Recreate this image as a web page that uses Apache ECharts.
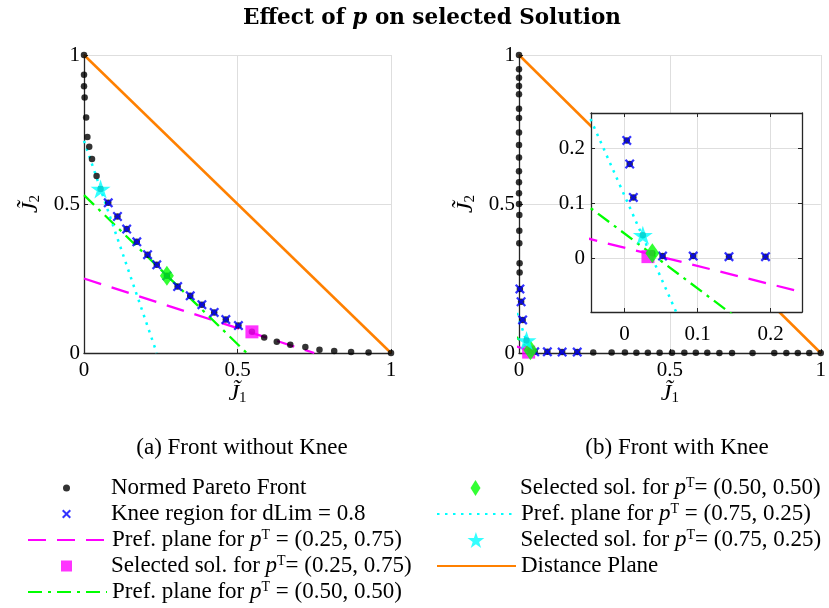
<!DOCTYPE html>
<html><head><meta charset="utf-8">
<script src="https://cdn.jsdelivr.net/npm/echarts@6/dist/echarts.min.js"></script>
<style>html,body{margin:0;padding:0;background:#fff}#c{width:829px;height:608px}</style>
</head><body><div id="c"></div>
<script>
// ---------------- data ----------------
// (a) front without knee
const leftFrontX = [0, 0, 0, 0.002, 0.007, 0.011, 0.017, 0.026, 0.041, 0.054, 0.079, 0.109, 0.139, 0.172, 0.207, 0.237, 0.270, 0.305, 0.346, 0.384, 0.424, 0.462, 0.503, 0.547, 0.587, 0.628, 0.672, 0.721, 0.767, 0.815, 0.870, 0.927, 1];
const leftFrontY = [1, 0.934, 0.895, 0.857, 0.790, 0.725, 0.692, 0.651, 0.594, 0.550, 0.504, 0.458, 0.416, 0.373, 0.330, 0.296, 0.259, 0.223, 0.192, 0.162, 0.136, 0.112, 0.092, 0.071, 0.052, 0.038, 0.028, 0.020, 0.011, 0.007, 0.003, 0.002, 0];
const leftKneeX = [0.079, 0.109, 0.139, 0.172, 0.207, 0.237, 0.270, 0.305, 0.346, 0.384, 0.424, 0.462, 0.503];
const leftKneeY = [0.504, 0.458, 0.416, 0.373, 0.330, 0.296, 0.259, 0.223, 0.192, 0.162, 0.136, 0.112, 0.092];
const leftSel25 = [0.547, 0.071];
const leftSel50 = [0.270, 0.259];
const leftSel75 = [0.054, 0.550];
const leftPref25 = [[0, 0.25], [0.75, 0]];
const leftPref50 = [[0, 0.53], [0.53, 0]];
const leftPref75 = [[0, 0.712], [0.237, 0]];
// (b) front with knee
const rightFrontX = [0, 0, 0, 0, 0, 0, 0, 0, 0, 0, 0, 0, 0, 0, 0.001, 0.001, 0.001, 0.002, 0.002, 0.003, 0.007, 0.012, 0.025, 0.038, 0.052, 0.094, 0.143, 0.193, 0.246, 0.307, 0.351, 0.389, 0.427, 0.466, 0.507, 0.548, 0.586, 0.624, 0.664, 0.706, 0.774, 0.846, 0.886, 0.924, 0.962, 1];
const rightFrontY = [1, 0.952, 0.924, 0.896, 0.868, 0.820, 0.789, 0.740, 0.698, 0.656, 0.610, 0.573, 0.536, 0.500, 0.463, 0.410, 0.368, 0.301, 0.270, 0.215, 0.172, 0.111, 0.042, 0.009, 0.004, 0.004, 0.003, 0.003, 0.002, 0.002, 0.002, 0.001, 0.001, 0.001, 0.001, 0.001, 0.001, 0.001, 0, 0, 0, 0, 0, 0, 0, 0];
const rightKneeX = [0.003, 0.007, 0.012, 0.052, 0.094, 0.143, 0.193];
const rightKneeY = [0.215, 0.172, 0.111, 0.004, 0.004, 0.003, 0.003];
const rightSel25 = [0.032, 0.003];
const rightSel50 = [0.038, 0.009];
const rightSel75 = [0.025, 0.042];
const rightPref25 = [[-0.1, 0.0526], [0.3, -0.0807]];
const rightPref50 = [[-0.1, 0.145], [0.3, -0.255]];
const rightPref75 = [[-0.1, 0.414], [0.3, -0.786]];
const distancePlane = [[0, 1], [1, 0]];
// tick values
const mainTicks = [0, 0.5, 1];
const insetTicks = [0, 0.1, 0.2];
const insetXRange = [-0.046, 0.243];
const insetYRange = [-0.098, 0.265];

// ---------------- names ----------------
const N_FRONT = 'Normed Pareto Front';
const N_KNEE = 'Knee region for dLim = 0.8';
const N_P25 = 'Pref. plane for pT = (0.25, 0.75)';
const N_S25 = 'Selected sol. for pT= (0.25, 0.75)';
const N_P50 = 'Pref. plane for pT = (0.50, 0.50)';
const N_S50 = 'Selected sol. for pT= (0.50, 0.50)';
const N_P75 = 'Pref. plane for pT = (0.75, 0.25)';
const N_S75 = 'Selected sol. for pT= (0.75, 0.25)';
const N_DIST = 'Distance Plane';

// ---------------- styles ----------------
const SERIF = '"Liberation Serif", "DejaVu Serif", serif';
const AX = '#262626';
const GRIDC = '#dedede';
const X_PATH = 'path://M0,1.6 L1.6,0 L5,3.4 L8.4,0 L10,1.6 L6.6,5 L10,8.4 L8.4,10 L5,6.6 L1.6,10 L0,8.4 L3.4,5 Z';
const DIAMOND_PATH = 'path://M5,0 L10,8 L5,16 L0,8 Z';
const SQUARE_PATH = 'path://M0,0 L10,0 L10,10 L0,10 Z';
const STAR_PATH = 'path://M10,0 L12.245,6.910 L19.511,6.910 L13.633,11.180 L15.878,18.090 L10,13.82 L4.122,18.090 L6.367,11.180 L0.489,6.910 L7.755,6.910 Z';

const zip = (xs, ys) => xs.map((x, i) => [x, ys[i]]);

function seriesSet(xi, yi, d, z) {
  return [
    {name: N_FRONT, type: 'scatter', xAxisIndex: xi, yAxisIndex: yi, z: z, data: zip(d.fx, d.fy),
      symbol: 'circle', symbolSize: 6.5, itemStyle: {color: '#000'}},
    {name: N_KNEE, type: 'scatter', xAxisIndex: xi, yAxisIndex: yi, z: z, data: zip(d.kx, d.ky),
      symbol: X_PATH, symbolSize: 10, itemStyle: {color: '#0000ff'}},
    {name: N_P25, type: 'line', xAxisIndex: xi, yAxisIndex: yi, z: z, data: d.p25, symbol: 'none',
      lineStyle: {color: '#ff00ff', width: 2.3, type: [18, 11]}, itemStyle: {color: '#ff00ff'}},
    {name: N_S25, type: 'scatter', xAxisIndex: xi, yAxisIndex: yi, z: z, data: [d.s25],
      symbol: SQUARE_PATH, symbolSize: 13, itemStyle: {color: '#ff00ff'}},
    {name: N_P50, type: 'line', xAxisIndex: xi, yAxisIndex: yi, z: z, data: d.p50, symbol: 'none',
      lineStyle: {color: '#00ff00', width: 2.3, type: [14, 6, 3, 6]}, itemStyle: {color: '#00ff00'}},
    {name: N_S50, type: 'scatter', xAxisIndex: xi, yAxisIndex: yi, z: z, data: [d.s50],
      symbol: DIAMOND_PATH, symbolSize: [14, 20], itemStyle: {color: '#00ff00'}},
    {name: N_P75, type: 'line', xAxisIndex: xi, yAxisIndex: yi, z: z, data: d.p75, symbol: 'none',
      lineStyle: {color: '#00ffff', width: 2.5, type: [2.5, 5.5]}, itemStyle: {color: '#00ffff'}},
    {name: N_S75, type: 'scatter', xAxisIndex: xi, yAxisIndex: yi, z: z, data: [d.s75],
      symbol: STAR_PATH, symbolSize: 20, symbolKeepAspect: true, itemStyle: {color: '#00ffff'}},
    {name: N_DIST, type: 'line', xAxisIndex: xi, yAxisIndex: yi, z: z, data: distancePlane, symbol: 'none',
      lineStyle: {color: '#ff8000', width: 2.5}, itemStyle: {color: '#ff8000'}}
  ];
}

const leftData = {fx: leftFrontX, fy: leftFrontY, kx: leftKneeX, ky: leftKneeY, p25: leftPref25, s25: leftSel25,
  p50: leftPref50, s50: leftSel50, p75: leftPref75, s75: leftSel75};
const rightData = {fx: rightFrontX, fy: rightFrontY, kx: rightKneeX, ky: rightKneeY, p25: rightPref25, s25: rightSel25,
  p50: rightPref50, s50: rightSel50, p75: rightPref75, s75: rightSel75};

const tickFont = {fontFamily: SERIF, fontSize: 21, color: '#000'};
const nameRich = {
  j: {fontFamily: SERIF, fontStyle: 'italic', fontSize: 24, color: '#000'},
  s: {fontFamily: SERIF, fontSize: 15, color: '#000', verticalAlign: 'bottom'}
};

function mainX(gi) {
  return {type: 'value', gridIndex: gi, min: 0, max: 1, interval: 0.5,
    axisLine: {show: true, onZero: false, lineStyle: {color: AX, width: 1.3}},
    axisTick: {show: true, inside: true, length: 4, lineStyle: {color: AX, width: 1}},
    axisLabel: Object.assign({margin: 7}, tickFont),
    splitLine: {show: true, lineStyle: {color: GRIDC, width: 1}},
    name: '{j|J\u0303}{s|1}', nameLocation: 'middle', nameGap: 15,
    nameTextStyle: {rich: nameRich}};
}
function mainY(gi) {
  return {type: 'value', gridIndex: gi, min: 0, max: 1, interval: 0.5,
    axisLine: {show: true, onZero: false, lineStyle: {color: AX, width: 1.3}},
    axisTick: {show: true, inside: true, length: 4, lineStyle: {color: AX, width: 1}},
    axisLabel: Object.assign({margin: 4}, tickFont),
    splitLine: {show: true, lineStyle: {color: GRIDC, width: 1}},
    name: '{j|J\u0303}{s|2}', nameLocation: 'middle', nameGap: 41, nameRotate: 90,
    nameTextStyle: {rich: nameRich}};
}
function insetAxis(isX, pos, showLabel, split) {
  const r = isX ? insetXRange : insetYRange;
  return {type: 'value', gridIndex: 2, position: pos, min: r[0], max: r[1], z: 4,
    axisLine: {show: true, onZero: false, lineStyle: {color: AX, width: 1.3}},
    axisTick: {show: true, inside: true, length: 4, customValues: insetTicks, lineStyle: {color: AX, width: 1}},
    axisLabel: Object.assign({show: showLabel, margin: isX ? 12 : 6, customValues: insetTicks}, tickFont),
    splitLine: {show: split, lineStyle: {color: GRIDC, width: 1}}};
}

// ---------------- legend ----------------
const LFS = 23;
const legendRich = {
  i: {fontFamily: SERIF, fontStyle: 'italic', fontSize: LFS, color: '#000'},
  s: {fontFamily: SERIF, fontSize: 14, color: '#000', verticalAlign: 'top'}
};
function fmtName(n) {
  return n.replace('pT', '{i|p}{s|T}');
}
// w: drawn icon width for symbol rows (legend is placed by its bounding box)
const legendRows = [
  {name: N_FRONT, col: 0, row: 0, h: 7, w: 7, icon: 'circle'},
  {name: N_KNEE, col: 0, row: 1, h: 9, w: 9, icon: X_PATH},
  {name: N_P25, col: 0, row: 2, h: 10},
  {name: N_S25, col: 0, row: 3, h: 11, w: 11, icon: SQUARE_PATH},
  {name: N_P50, col: 0, row: 4, h: 10},
  {name: N_S50, col: 1, row: 0, h: 16, w: 10, icon: DIAMOND_PATH},
  {name: N_P75, col: 1, row: 1, h: 10},
  {name: N_S75, col: 1, row: 2, h: 16, w: 16, icon: STAR_PATH},
  {name: N_DIST, col: 1, row: 3, h: 10}
];
const legends = legendRows.map(r => {
  const cy = 488 + r.row * 26;
  const x0 = r.col === 0 ? 27 : 436;
  const item = {name: r.name};
  let left = x0;
  if (r.icon) {
    item.icon = r.icon;
    left = x0 + 39.5 - r.w / 2;
  } else {
    item.itemStyle = {opacity: 0};
  }
  return {
    show: true, orient: 'vertical', left: left, top: cy - 12,
    padding: 0, itemWidth: 79, itemHeight: r.h, itemGap: 0, selectedMode: false,
    data: [item], formatter: fmtName,
    textStyle: {fontFamily: SERIF, fontSize: LFS, color: '#000', rich: legendRich, height: 24, lineHeight: 24}
  };
});

const option = {
  animation: false,
  backgroundColor: '#fff',
  title: [
    {text: '{b|Effect of }{bi|p}{b| on selected Solution}', left: 427, top: 2, textAlign: 'center',
      textStyle: {rich: {
        b: {fontFamily: '"DejaVu Serif", serif', fontWeight: 'bold', fontSize: 21.5, color: '#000'},
        bi: {fontFamily: '"DejaVu Serif", serif', fontWeight: 'bold', fontStyle: 'italic', fontSize: 21.5, color: '#000'}}}},
    {text: '(a) Front without Knee', left: 237, top: 431, textAlign: 'center',
      textStyle: {fontFamily: SERIF, fontWeight: 'normal', fontSize: 23, color: '#000'}},
    {text: '(b) Front with Knee', left: 672, top: 431, textAlign: 'center',
      textStyle: {fontFamily: SERIF, fontWeight: 'normal', fontSize: 23, color: '#000'}}
  ],
  legend: legends,
  grid: [
    {left: 84, top: 55, width: 307, height: 298, containLabel: false},
    {left: 519, top: 55, width: 306, height: 298, containLabel: false},
    {left: 591, top: 113, width: 211, height: 199, containLabel: false, show: true,
      backgroundColor: '#fff', borderWidth: 0, z: 3}
  ],
  xAxis: [mainX(0), mainX(1), insetAxis(true, 'bottom', true, true), insetAxis(true, 'top', false, false)],
  yAxis: [mainY(0), mainY(1), insetAxis(false, 'left', true, true), insetAxis(false, 'right', false, false)],
  series: [].concat(
    seriesSet(0, 0, leftData, 2),
    seriesSet(1, 1, rightData, 2),
    seriesSet(2, 2, rightData, 5)
  )
};

const chart = echarts.init(document.getElementById('c'), null, {renderer: 'canvas'});
chart.setOption(option);
</script>
</body></html>
